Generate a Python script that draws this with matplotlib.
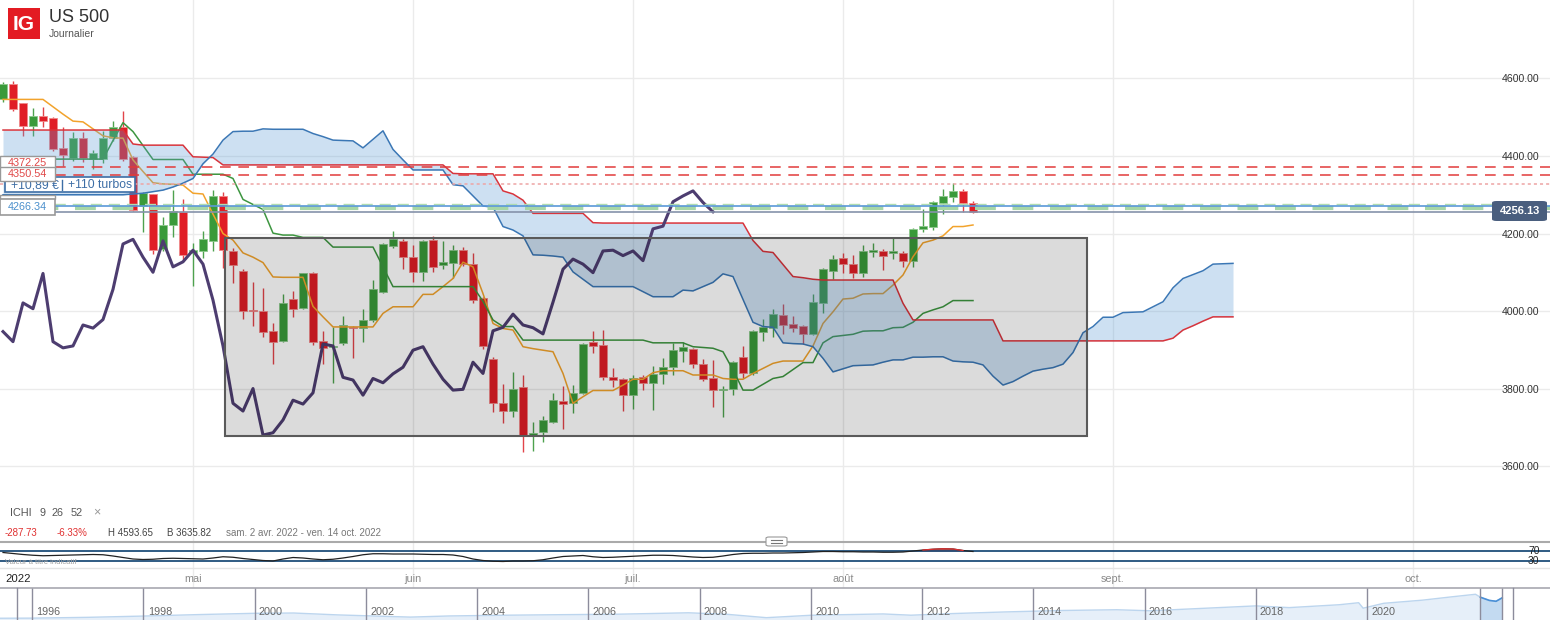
import matplotlib
matplotlib.use('Agg')
import matplotlib.pyplot as plt
from matplotlib.patches import Rectangle, FancyBboxPatch
from matplotlib.lines import Line2D
import matplotlib.transforms as mtrans
import numpy as np

plt.rcParams['font.family'] = ['Liberation Sans', 'DejaVu Sans']

# daily candles, US 500 (bar index 0 = first visible day)
opens = [4547, 4585, 4536, 4477, 4503, 4499, 4420, 4394, 4447, 4392,
         4392, 4446, 4476, 4398, 4272, 4301, 4160, 4222, 4255, 4149,
         4155, 4181, 4298, 4156, 4103, 4003, 4001, 3948, 3923, 4030,
         4007, 4099, 3923, 3906, 3917, 3960, 3956, 3977, 4050, 4168,
         4181, 4139, 4101, 4183, 4119, 4125, 4157, 4121, 4033, 3875,
         3764, 3743, 3803, 3680, 3689, 3714, 3769, 3762, 3788, 3921,
         3912, 3831, 3825, 3783, 3829, 3815, 3838, 3855, 3898, 3901,
         3863, 3826, 3795, 3799, 3881, 3839, 3947, 3956, 3990, 3967,
         3961, 3941, 4020, 4104, 4136, 4121, 4099, 4153, 4155, 4151,
         4151, 4130, 4211, 4218, 4278, 4295, 4310, 4280]
highs = [4592, 4594, 4538, 4525, 4527, 4500, 4476, 4463, 4463, 4415,
         4464, 4490, 4516, 4400, 4306, 4303, 4243, 4312, 4289, 4175,
         4206, 4312, 4306, 4162, 4108, 4076, 4059, 3970, 4044, 4052,
         4099, 4101, 3949, 3958, 3987, 3962, 4004, 4080, 4175, 4207,
         4185, 4170, 4184, 4194, 4181, 4170, 4164, 4149, 4036, 3881,
         3812, 3843, 3835, 3714, 3729, 3788, 3807, 3808, 3918, 3949,
         3951, 3852, 3828, 3835, 3835, 3858, 3878, 3918, 3921, 3904,
         3875, 3874, 3806, 3870, 3910, 3951, 3979, 4004, 4017, 3988,
         3964, 4044, 4112, 4145, 4149, 4145, 4170, 4175, 4160, 4190,
         4155, 4214, 4262, 4284, 4314, 4330, 4314, 4283]
lows = [4540, 4516, 4452, 4452, 4476, 4413, 4375, 4387, 4384, 4366,
        4381, 4440, 4386, 4257, 4203, 4146, 4155, 4192, 4129, 4065,
        4138, 4155, 4110, 4072, 3979, 3961, 3934, 3863, 3920, 3985,
        4005, 3912, 3863, 3815, 3912, 3878, 3921, 3972, 4046, 4163,
        4108, 4076, 4078, 4101, 4109, 4084, 4115, 4021, 3901, 3740,
        3710, 3726, 3636, 3638, 3663, 3710, 3695, 3736, 3785, 3893,
        3822, 3803, 3743, 3746, 3795, 3745, 3812, 3835, 3869, 3852,
        3820, 3753, 3727, 3783, 3826, 3836, 3923, 3934, 3942, 3947,
        3915, 3938, 3996, 4082, 4099, 4084, 4087, 4139, 4106, 4133,
        4114, 4114, 4205, 4209, 4250, 4281, 4256, 4254]
closes = [4585, 4521, 4478, 4504, 4490, 4418, 4403, 4447, 4394, 4409,
          4447, 4476, 4391, 4261, 4304, 4157, 4222, 4258, 4145, 4157,
          4185, 4298, 4157, 4119, 4001, 4000, 3947, 3921, 4021, 4006,
          4097, 3921, 3905, 3910, 3964, 3956, 3978, 4056, 4173, 4185,
          4139, 4100, 4181, 4114, 4127, 4157, 4121, 4028, 3910, 3762,
          3742, 3800, 3680, 3686, 3719, 3770, 3760, 3789, 3915, 3910,
          3829, 3822, 3783, 3826, 3815, 3838, 3855, 3899, 3908, 3863,
          3824, 3796, 3798, 3868, 3839, 3949, 3958, 3992, 3964, 3957,
          3941, 4023, 4108, 4134, 4121, 4099, 4155, 4157, 4143, 4155,
          4130, 4212, 4219, 4282, 4297, 4310, 4280, 4256.13]

# Ichimoku lines
tenkan = [4546, 4546, 4546, 4546, 4546, 4527, 4508, 4490, 4488, 4470,
          4452, 4447, 4446, 4390, 4360, 4331, 4328, 4327, 4325, 4304,
          4302, 4250, 4200, 4183, 4150, 4139, 4125, 4088, 4087, 4087,
          4087, 4012, 3985, 3959, 3959, 3959, 3959, 3959, 3994, 4011,
          4011, 4011, 4043, 4043, 4063, 4084, 4126, 4114, 4045, 3968,
          3955, 3951, 3908, 3903, 3899, 3895, 3839, 3762, 3779, 3795,
          3795, 3795, 3809, 3824, 3824, 3841, 3846, 3846, 3846, 3835,
          3835, 3835, 3826, 3824, 3824, 3839, 3852, 3865, 3871, 3871,
          3871, 3910, 3968, 3998, 4031, 4033, 4044, 4045, 4045, 4067,
          4093, 4140, 4176, 4183, 4194, 4218, 4218, 4222]
kijun = [4392, 4392, 4392, 4392, 4392, 4392, 4392, 4392, 4392, 4392,
         4392, 4440, 4486, 4463, 4427, 4391, 4391, 4391, 4391, 4353,
         4353, 4353, 4353, 4342, 4288, 4275, 4262, 4201, 4196, 4196,
         4190, 4190, 4190, 4165, 4165, 4165, 4165, 4165, 4114, 4063,
         4063, 4063, 4063, 4063, 4063, 4063, 4063, 4063, 4025, 3977,
         3960, 3960, 3925, 3925, 3925, 3925, 3925, 3925, 3925, 3925,
         3925, 3925, 3925, 3925, 3925, 3918, 3918, 3918, 3918, 3908,
         3906, 3904, 3895, 3848, 3796, 3796, 3811, 3826, 3831, 3849,
         3867, 3867, 3918, 3934, 3937, 3940, 3948, 3949, 3949, 3957,
         3958, 3971, 3994, 4003, 4011, 4027, 4027, 4027]
span_b = ([4467] * 13 + [4431] + [4428] * 5 + [4398, 4397, 4396] + [4377] * 23
          + [4355] + [4354] * 4 + [4310, 4302, 4286] + [4252] * 6 + [4228]
          + [4227] * 15 + [4182, 4154, 4151, 4120, 4089, 4086, 4082]
          + [4080] * 8 + [4020] + [3977] * 9 + [3923] * 17
          + [3930, 3951, 3962, 3974, 3985, 3985, 3985])
span_a = [4300, 4300, 4300, 4300, 4300, 4300, 4300, 4300, 4300, 4300,
          4300, 4300, 4300, 4302, 4304, 4308, 4312, 4320, 4330, 4342,
          4380, 4405, 4441, 4463, 4464, 4464, 4470, 4469, 4469, 4469,
          4469, 4458, 4450, 4441, 4440, 4439, 4421, 4443, 4465, 4417,
          4390, 4364, 4364, 4364, 4364, 4326, 4323, 4297, 4271, 4268,
          4218, 4209, 4194, 4145, 4144, 4142, 4139, 4101, 4082, 4063,
          4063, 4063, 4063, 4063, 4050, 4037, 4037, 4037, 4054, 4052,
          4063, 4074, 4096, 4089, 4030, 3971, 3960, 3958, 3918, 3916,
          3915, 3908, 3878, 3843, 3851, 3859, 3860, 3861, 3868, 3874,
          3874, 3881, 3881, 3882, 3882, 3871, 3869, 3868, 3861, 3832,
          3809, 3818, 3832, 3845, 3850, 3854, 3863, 3893, 3944, 3960,
          3984, 3984, 3996, 3997, 3998, 4011, 4024, 4060, 4084, 4094,
          4104, 4121, 4122, 4123]
chikou_shift = 26

# small oscillator panel under the chart
osc = [64, 60, 56, 53, 51, 52, 53, 54, 55, 56,
       55, 50, 44, 38, 36, 37, 40, 41, 40, 39,
       38, 42, 47, 45, 40, 36, 32, 30, 38, 44,
       42, 38, 35, 37, 42, 48, 55, 59, 59, 58,
       58, 58, 57, 56, 56, 54, 48, 38, 32, 29,
       28, 30, 30, 31, 35, 42, 48, 50, 52, 47,
       44, 45, 47, 49, 51, 53, 53, 52, 49, 46,
       44, 45, 50, 56, 60, 61, 61, 62, 62, 63,
       64, 66, 68, 68, 67, 67, 66, 66, 65, 65,
       66, 70, 74, 77, 79, 78, 72, 68]

# horizontal levels (price)
lvl_red = [4372.25, 4350.54]
lvl_turbo = 4329
lvl_green_thin = 4277
lvl_blue = 4271
lvl_green_thick = 4266.34

# drawn zone (bar index / price)
zone = (22.2, 3677.6, 108.4, 4188.4)

price_ticks = [3600, 3800, 4000, 4200, 4400, 4600]
month_pos = [19, 41, 63, 84, 111, 141]
month_lbl = ['mai', 'juin', 'juil.', 'août', 'sept.', 'oct.']

# navigator (long history)
nav_years = [1995.4, 1996, 1997, 1998, 1999, 2000, 2000.7, 2001.5, 2002.8, 2003.5,
             2004.5, 2005.5, 2006.5, 2007.8, 2008.5, 2009.2, 2010, 2011.3, 2011.8,
             2012.5, 2013.5, 2014.5, 2015.5, 2016.1, 2017, 2018, 2018.6, 2019.5,
             2019.85, 2019.93, 2020.3, 2021, 2021.5, 2021.95, 2022.04, 2022.2,
             2022.32, 2022.43]
nav_values = [600, 620, 760, 980, 1240, 1460, 1510, 1180, 800, 1000,
              1130, 1220, 1300, 1550, 1280, 700, 1120, 1350, 1130,
              1400, 1700, 1950, 2080, 1900, 2300, 2750, 2450, 2950,
              3300, 2350, 3200, 3750, 4300, 4770, 4250, 3700,
              3550, 4150]
nav_tick_years = list(range(1996, 2021, 2))

W, H = 1550, 620
fig = plt.figure(figsize=(15.5, 6.2), dpi=100)


def fy(py):
    return 1 - py / H


def px_rect(x0, y0, x1, y1, z, **kw):
    r = Rectangle((x0 / W, fy(y1)), (x1 - x0) / W, (y1 - y0) / H,
                  transform=fig.transFigure, zorder=z, **kw)
    fig.add_artist(r)


def px_text(x, y, s, z=20, **kw):
    fig.text(x / W, fy(y), s, zorder=z, **kw)


def px_line(xs, ys, **kw):
    fig.add_artist(Line2D([x / W for x in xs], [fy(y) for y in ys],
                          transform=fig.transFigure, **kw))


XL = (-0.3, 154.7)

# ---------------- main price panel ----------------
ax = fig.add_axes([0, fy(541), 1, 541 / H])
ax.set_xlim(*XL)
ax.set_ylim(3406.7, 4802.5)
for s in ax.spines.values():
    s.set_visible(False)
ax.set_xticks([])
ax.set_yticks(price_ticks)
ax.set_yticklabels(['%.2f' % v for v in price_ticks])
ax.yaxis.tick_right()
ax.tick_params(axis='y', length=0, pad=-35, labelsize=7.6, labelcolor='#333333')
ax.grid(axis='y', color='#ebebeb', lw=1)
ax.set_axisbelow(True)
for m in month_pos:
    ax.axvline(m, color='#ebebeb', lw=1, zorder=0)

o = np.array(opens, float)
c = np.array(closes, float)
hi = np.array(highs, float)
lo = np.array(lows, float)
x = np.arange(len(c))
up = c >= o
body_col = np.where(up, '#3a9a3a', '#e01e26')
edge_col = np.where(up, '#8cc88c', '#f08a8a')
wick_col = np.where(up, '#4ea24e', '#e2444a')
ax.vlines(x, lo, hi, colors=wick_col, lw=1, zorder=2)
ax.bar(x, np.maximum(np.abs(c - o), 2.6), bottom=np.minimum(o, c), width=0.72,
       color=body_col, edgecolor=edge_col, lw=0.6, zorder=3)

ax.plot(x, tenkan, color='#f2a32c', lw=1.1, zorder=4)
ax.plot(x, kijun, color='#3d9640', lw=1.1, zorder=4)

xc = np.arange(len(span_a))
ax.fill_between(xc, span_a, span_b, color='#5b9bd5', alpha=0.3, lw=0, zorder=5)
ax.plot(xc, span_b, color='#d8343c', lw=1.1, zorder=5)
ax.plot(xc, span_a, color='#3b77b5', lw=1.1, zorder=5)

ax.plot(x[:len(c) - chikou_shift], c[chikou_shift:], color='#4d3d70', lw=2.2, zorder=6)

zx0, zy0, zx1, zy1 = zone
ax.add_patch(Rectangle((zx0, zy0), zx1 - zx0, zy1 - zy0, facecolor='black',
                       alpha=0.14, lw=0, zorder=7))
ax.add_patch(Rectangle((zx0, zy0), zx1 - zx0, zy1 - zy0, fill=False,
                       edgecolor='#5a5a5a', lw=1.5, zorder=7))

for v in lvl_red:
    ax.axhline(v, color='#e23a3a', lw=1.1, ls=(0, (7, 5)), zorder=8)
ax.axhline(lvl_turbo, color='#eea4a4', lw=1.1, ls=(0, (2, 2)), zorder=8)
ax.axhline(lvl_green_thin, color='#b0dcb0', lw=1, ls=(0, (8, 5)), zorder=8)
ax.axhline(lvl_green_thick, color='#a6d6a6', lw=3, ls=(0, (5, 4)), zorder=8)
ax.axhline(lvl_blue, color='#5a98d8', lw=1.2, zorder=8)
ax.axhline(closes[-1], color='#8592aa', lw=1.2, zorder=8)

# ---------------- oscillator panel ----------------
axo = fig.add_axes([0, fy(568), 1, 26 / H])
axo.set_xlim(*XL)
axo.set_ylim(2, 106)
axo.axis('off')
for m in month_pos:
    axo.axvline(m, color='#ebebeb', lw=1, zorder=0)
axo.axhline(70, color='#1f4e79', lw=1.3)
axo.axhline(30, color='#1f4e79', lw=1.3)
xo = np.arange(len(osc))
oa = np.array(osc, float)
axo.plot(xo, oa, color='#222222', lw=0.9)
axo.fill_between(xo, oa, 70, where=oa > 70, interpolate=True, color='#e03030', lw=0)
axo.plot(xo, np.where(oa > 70, oa, np.nan), color='#e03030', lw=0.9)
t = mtrans.blended_transform_factory(axo.transAxes, axo.transData)
axo.text(0.9895, 70, '70', transform=t, fontsize=7.5, color='#222', ha='center', va='center')
axo.text(0.9895, 30, '30', transform=t, fontsize=7.5, color='#222', ha='center', va='center')

# ---------------- date strip ----------------
axd = fig.add_axes([0, fy(588), 1, 20 / H])
axd.set_xlim(*XL)
axd.set_ylim(0, 1)
axd.axis('off')
for m, lab in zip(month_pos, month_lbl):
    axd.axvline(m, color='#ebebeb', lw=1, zorder=0)
    axd.text(m, 0.45, lab, ha='center', va='center', fontsize=7.8, color='#8a8a8a')
axd.text(0.2, 0.45, '2022', ha='left', va='center', fontsize=8.2, color='#222222')

# ---------------- navigator ----------------
axn = fig.add_axes([0, 0, 1, 32 / H])
axn.set_xlim(1995.42, 2023.29)
axn.set_ylim(296, 5861)
axn.axis('off')
ny = np.array(nav_years)
nv = np.array(nav_values, float)
axn.fill_between(ny, nv, 0, color='#e6eff9', lw=0)
axn.plot(ny, nv, color='#bcd5ee', lw=1)
sel = ny >= 2022.04
axn.fill_between(ny[sel], nv[sel], 0, color='#c3daf1', lw=0)
axn.plot(ny[sel], nv[sel], color='#4a8fd6', lw=1.2)
axn.axvline(ny[sel][0], color='#8c8c9c', lw=1)
axn.axvline(ny[-1], color='#8c8c9c', lw=1)
tn = axn.get_xaxis_transform()
for yr in nav_tick_years:
    axn.axvline(yr, color='#8c8c9c', lw=1)
    axn.text(yr + 0.075, 0.26, str(yr), transform=tn, fontsize=7.8,
             color='#666666', va='center', ha='left')

# ---------------- separators & handle ----------------
px_line([0, W], [541.7, 541.7], color='#aaaaaa', lw=1.5, zorder=5)
px_line([0, W], [568, 568], color='#e4e4e4', lw=1, zorder=5)
px_line([0, W], [588, 588], color='#a8a8b0', lw=1.2, zorder=5)
px_line([16.7, 16.7], [588, 620], color='#8c8c9c', lw=1, zorder=5)
px_line([1513, 1513], [588, 620], color='#8c8c9c', lw=1, zorder=5)
fig.add_artist(FancyBboxPatch((766 / W, fy(546)), 21 / W, 9 / H,
                              boxstyle='round,pad=0,rounding_size=0.002',
                              transform=fig.transFigure, fc='white', ec='#999999',
                              lw=0.8, zorder=6))
px_line([771, 782], [540, 540], color='#777777', lw=0.8, zorder=7)
px_line([771, 782], [542.5, 542.5], color='#777777', lw=0.8, zorder=7)
px_text(5, 563, 'Valeur à titre indicatif', fontsize=5.5, color='#a0a0a0', va='center')

# ---------------- header ----------------
px_rect(8, 8, 40, 39, 10, facecolor='#e31b23', edgecolor='none')
px_text(24, 24.5, 'IG', z=11, fontsize=15, color='white', weight='bold', ha='center', va='center')
px_text(49, 17, 'US 500', fontsize=13, color='#333333', va='center')
px_text(49, 34, 'Journalier', fontsize=7.5, color='#555555', va='center')

# ---------------- indicator legend ----------------
px_text(10, 513, 'ICHI', fontsize=7.8, color='#555555', va='center')
px_text(40, 513, '9', fontsize=7.8, color='#555555', va='center')
px_text(52, 513, '26', fontsize=7.8, color='#555555', va='center')
px_text(71, 513, '52', fontsize=7.8, color='#555555', va='center')
px_text(93, 512, '×', fontsize=9, color='#999999', va='center')
px_text(5, 533, '-287.73', fontsize=7, color='#e03030', va='center')
px_text(57, 533, '-6.33%', fontsize=7, color='#e03030', va='center')
px_text(108, 533, 'H 4593.65', fontsize=7, color='#444444', va='center')
px_text(167, 533, 'B 3635.82', fontsize=7, color='#444444', va='center')
px_text(226, 533, 'sam. 2 avr. 2022 - ven. 14 oct. 2022', fontsize=7, color='#777777', va='center')

# ---------------- level tags on the left ----------------
px_rect(0, 156, 55, 169, 10, facecolor='white', edgecolor='#999999', lw=1)
px_text(27.5, 163, '%.2f' % lvl_red[0], z=11, fontsize=7.8, color='#e04848', ha='center', va='center')
px_rect(5, 177, 135, 192, 10, facecolor='white', edgecolor='#3d6ea6', lw=1.2)
px_text(11, 185, '+10,89 €', z=11, fontsize=8.8, color='#3d6ea6', va='center')
px_line([62, 62], [180, 190], color='#3d6ea6', lw=1, zorder=11)
px_text(68, 185, '+110 turbos', z=11, fontsize=8.8, color='#3d6ea6', va='center')
px_rect(0, 167, 55, 181, 12, facecolor='white', edgecolor='#999999', lw=1)
px_text(27.5, 174, '%.2f' % lvl_red[1], z=13, fontsize=7.8, color='#e04848', ha='center', va='center')
px_rect(0, 195, 55, 199, 10, facecolor='white', edgecolor='#999999', lw=1)
px_rect(0, 199, 55, 215, 10, facecolor='white', edgecolor='#999999', lw=1.2)
px_text(27.5, 207, '%.2f' % lvl_green_thick, z=11, fontsize=7.8, color='#4a8fcc', ha='center', va='center')

# current price tag on the right
fig.add_artist(FancyBboxPatch((1492 / W, fy(221)), 55 / W, 20 / H,
                              boxstyle='round,pad=0,rounding_size=0.003',
                              transform=fig.transFigure, fc='#4a5e7e', ec='none', zorder=10))
px_text(1519.5, 211, '%.2f' % closes[-1], z=11, fontsize=8, color='white',
        weight='bold', ha='center', va='center')

fig.savefig('out.png', dpi=100)
